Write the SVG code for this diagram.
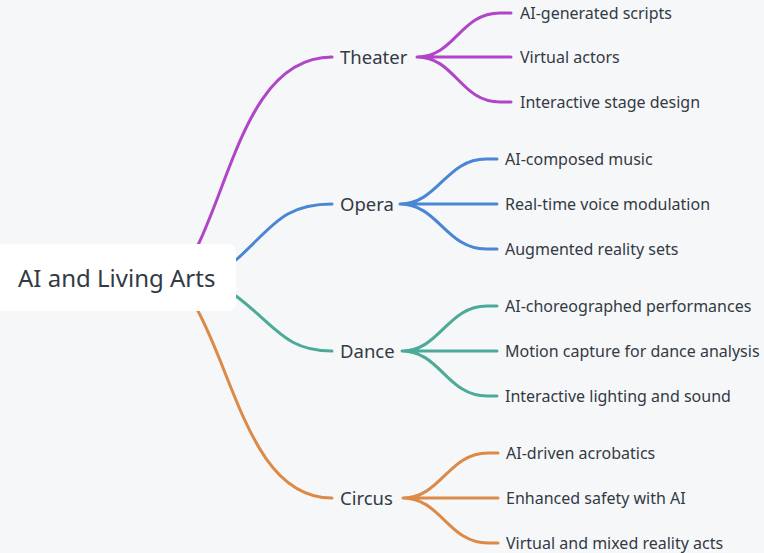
<svg xmlns="http://www.w3.org/2000/svg" width="764" height="553" viewBox="0 0 764 553">
<style>
text{font-family:"Noto Sans","Liberation Sans",sans-serif;fill:#333a44}
.root{font-size:24px}
.br{font-size:18.5px}
.lf{font-size:16px}
.c{fill:none;stroke-width:3;stroke-linecap:round}
.p{stroke:#b045c8}.b{stroke:#4a86d3}.g{stroke:#4cab98}.o{stroke:#dc8a48}
</style>
<rect width="764" height="553" fill="#f6f7f9"/>
<g id="connectors">
<path class="c p" d="M198,245 C233,172 252,57 332,57"/>
<path class="c b" d="M236,260 C272,228 282,204 332,204"/>
<path class="c g" d="M236,296 C276,326 285,351 332,351"/>
<path class="c o" d="M198,311 C236,382 254,498 332,498"/>
<path class="c p" d="M417,57 C455,57 460,13 500,13 L511,13 M417,57 L511,57 M417,57 C455,57 460,102 500,102 L511,102"/>
<path class="c b" d="M400,204 C438,204 446,159 486,159 L497,159 M400,204 L497,204 M400,204 C438,204 446,249 486,249 L497,249"/>
<path class="c g" d="M402,351 C440,351 447,306 487,306 L497,306 M402,351 L497,351 M402,351 C440,351 447,396 487,396 L497,396"/>
<path class="c o" d="M403,498 C441,498 448,453 488,453 L498,453 M403,498 L498,498 M403,498 C441,498 448,543 488,543 L498,543"/>
</g>
<g id="root"><rect x="-8" y="244" width="244" height="67" rx="8" fill="#ffffff"/><text class="root" x="18" y="286.5">AI and Living Arts</text></g>
<g id="theater"><text class="br" x="340" y="63.5">Theater</text></g>
<g id="opera"><text class="br" x="340" y="210.5">Opera</text></g>
<g id="dance"><text class="br" x="340" y="357.5">Dance</text></g>
<g id="circus"><text class="br" x="340" y="504.5">Circus</text></g>
<g id="t1"><text class="lf" x="520" y="18.5">AI-generated scripts</text></g>
<g id="t2"><text class="lf" x="520" y="62.5">Virtual actors</text></g>
<g id="t3"><text class="lf" x="520" y="107.5">Interactive stage design</text></g>
<g id="o1"><text class="lf" x="505" y="164.5">AI-composed music</text></g>
<g id="o2"><text class="lf" x="505" y="209.5">Real-time voice modulation</text></g>
<g id="o3"><text class="lf" x="505" y="254.5">Augmented reality sets</text></g>
<g id="d1"><text class="lf" x="505" y="311.5">AI-choreographed performances</text></g>
<g id="d2"><text class="lf" x="505" y="356.5">Motion capture for dance analysis</text></g>
<g id="d3"><text class="lf" x="505" y="401.5">Interactive lighting and sound</text></g>
<g id="c1"><text class="lf" x="506" y="458.5">AI-driven acrobatics</text></g>
<g id="c2"><text class="lf" x="506" y="503.5">Enhanced safety with AI</text></g>
<g id="c3"><text class="lf" x="506" y="548.5">Virtual and mixed reality acts</text></g>
</svg>
